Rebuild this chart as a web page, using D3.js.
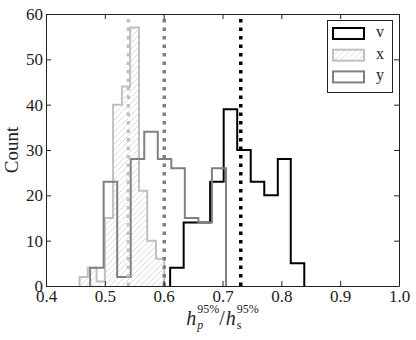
<!DOCTYPE html>
<html lang="en">
<head>
<meta charset="UTF-8">
<title>h_p / h_s histogram</title>
<script src="https://d3js.org/d3.v7.min.js"></script>
<style>
    body { margin: 0; background: #fff; }
    svg text { font-family: "Liberation Serif", "DejaVu Serif", serif; }
</style>
</head>
<body>
<svg id="chart" width="416" height="340"></svg>
<script>
// bin edges and counts
const vEdges = [0.611, 0.634, 0.657, 0.679, 0.702, 0.725, 0.748, 0.771, 0.794, 0.816, 0.839];
const vCounts = [4, 14, 14, 23, 39, 30, 23, 20, 28, 5];

const xEdges = [0.457, 0.471, 0.486, 0.500, 0.514, 0.529, 0.543, 0.558, 0.572, 0.587, 0.601];
const xCounts = [2, 4, 1, 15, 40, 44, 57, 21, 10, 6];

const yEdges = [0.475, 0.498, 0.521, 0.544, 0.567, 0.590, 0.613, 0.636, 0.659, 0.682, 0.706];
const yCounts = [4, 23, 2, 28, 34, 28, 26, 15, 14, 26];

// dotted vertical markers
const markNames = ["v", "x", "y"];
const markValues = [0.731, 0.540, 0.601];

const xTicks = [0.4, 0.5, 0.6, 0.7, 0.8, 0.9, 1.0];
const yTicks = [0, 10, 20, 30, 40, 50, 60];

const seriesNames = ["v", "x", "y"];
const colors = { v: "#000000", x: "#c0c0c0", y: "#808080" };

const mLeft = 46, mRight = 399, mTop = 14, mBottom = 286;

const svg = d3.select("#chart");

const x = d3.scaleLinear().domain([0.4, 1.0]).range([mLeft, mRight]);
const y = d3.scaleLinear().domain([0, 60]).range([mBottom, mTop]);

// hatch pattern for the x series
const defs = svg.append("defs");
defs.append("pattern")
    .attr("id", "hatch")
    .attr("patternUnits", "userSpaceOnUse")
    .attr("width", 6).attr("height", 6)
    .append("path")
    .attr("d", "M-1,1 l2,-2 M0,6 l6,-6 M5,7 l2,-2")
    .attr("stroke", "#d4d4d4")
    .attr("stroke-width", 0.8);

function stepPath(edges, counts) {
    const pts = [[edges[0], 0]];
    counts.forEach((c, i) => {
        pts.push([edges[i], c]);
        pts.push([edges[i + 1], c]);
    });
    pts.push([edges[edges.length - 1], 0]);
    return d3.line().x(d => x(d[0])).y(d => y(d[1]))(pts);
}

const series = {
    v: [vEdges, vCounts],
    x: [xEdges, xCounts],
    y: [yEdges, yCounts]
};

const plot = svg.append("g");

seriesNames.forEach(name => {
    const [edges, counts] = series[name];
    plot.append("path")
        .attr("d", stepPath(edges, counts))
        .attr("fill", name === "x" ? "url(#hatch)" : "none")
        .attr("stroke", colors[name])
        .attr("stroke-width", 2)
        .attr("stroke-linejoin", "miter");
});

// dotted lines
markNames.forEach((name, i) => {
    plot.append("line")
        .attr("x1", x(markValues[i])).attr("x2", x(markValues[i]))
        .attr("y1", y(0)).attr("y2", y(60))
        .attr("stroke", colors[name])
        .attr("stroke-width", 3.5)
        .attr("stroke-dasharray", "3.5,5");
});

// axes: ticks inside on all four sides
const fmtX = d3.format(".1f");

const gBottom = svg.append("g").attr("transform", `translate(0,${mBottom})`)
    .call(d3.axisBottom(x).tickValues(xTicks).tickFormat(fmtX).tickSize(-5).tickSizeOuter(0).tickPadding(4));
const gTop = svg.append("g").attr("transform", `translate(0,${mTop})`)
    .call(d3.axisTop(x).tickValues(xTicks).tickFormat("").tickSize(-5).tickSizeOuter(0));
const gLeft = svg.append("g").attr("transform", `translate(${mLeft},0)`)
    .call(d3.axisLeft(y).tickValues(yTicks).tickSize(-5).tickSizeOuter(0).tickPadding(3));
const gRight = svg.append("g").attr("transform", `translate(${mRight},0)`)
    .call(d3.axisRight(y).tickValues(yTicks).tickFormat("").tickSize(-5).tickSizeOuter(0));

[gBottom, gTop, gLeft, gRight].forEach(g => {
    g.select(".domain").attr("stroke", "#222").attr("stroke-width", 1);
    g.selectAll(".tick line").attr("stroke", "#222");
    g.selectAll("text")
        .attr("font-family", "Liberation Serif, serif")
        .attr("font-size", 17)
        .attr("fill", "#222");
});

// y label
svg.append("text")
    .attr("transform", "translate(18,150) rotate(-90)")
    .attr("text-anchor", "middle")
    .attr("font-size", 19)
    .attr("fill", "#222")
    .text("Count");

// x label: h_p^{95%} / h_s^{95%}
const lab = svg.append("g");
let cx = 0;
function piece(txt, size, dy, italic) {
    const t = lab.append("text")
        .attr("x", cx).attr("y", dy)
        .attr("font-size", size)
        .attr("font-style", italic ? "italic" : "normal")
        .attr("fill", "#222")
        .text(txt);
    return t.node().getComputedTextLength();
}
function subsup(sub, subItalic, sup) {
    const w1 = piece(sub, 12, 4, subItalic);
    const w2 = piece(sup, 12, -12, false);
    cx += Math.max(w1, w2);
}
cx += piece("h", 20, 0, true) + 1;
subsup("p", true, "95%");
cx += piece("/", 20, 0, false) + 1;
cx += piece("h", 20, 0, true) + 1;
subsup("s", false, "95%");
lab.attr("transform", `translate(${(mLeft + mRight) / 2 - cx / 2},325)`);

// legend
const lg = svg.append("g").attr("transform", "translate(327,20)");
lg.append("rect")
    .attr("x", 0.5).attr("y", 0.5)
    .attr("width", 65).attr("height", 72)
    .attr("fill", "#fff")
    .attr("stroke", "#222").attr("stroke-width", 1);
seriesNames.forEach((name, i) => {
    const row = lg.append("g").attr("transform", `translate(6,${8 + i * 21.7})`);
    row.append("rect")
        .attr("width", 31).attr("height", 11)
        .attr("fill", name === "x" ? "url(#hatch)" : "#fff")
        .attr("stroke", colors[name])
        .attr("stroke-width", 2);
    row.append("text")
        .attr("x", 47).attr("y", 9)
        .attr("font-size", 16)
        .attr("text-anchor", "middle")
        .attr("fill", "#222")
        .text(name);
});
</script>
</body>
</html>
